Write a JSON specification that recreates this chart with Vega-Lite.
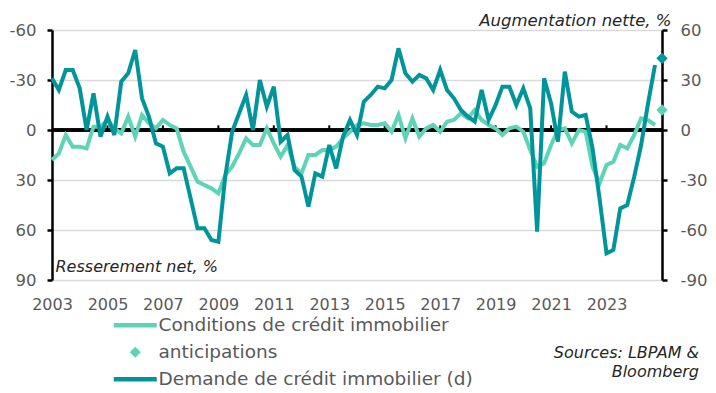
{
  "$schema": "https://vega.github.io/schema/vega-lite/v6.json",
  "width": 610,
  "height": 250,
  "autosize": "none",
  "padding": {"left": 52, "top": 30, "right": 54, "bottom": 113},
  "background": "white",
  "config": {
    "view": {"stroke": null},
    "font": "DejaVu Sans",
    "axisX": {
      "domain": false, "ticks": false, "grid": false,
      "labelFont": "DejaVu Sans", "labelFontSize": 16, "labelColor": "#595959", "labelPadding": 16,
      "labelFlush": false, "labelOverlap": false
    }
  },
  "datasets": {
    "q": [
      {"date":"2003-01-01","cond":18,"dem":31},{"date":"2003-04-01","cond":14,"dem":24},{"date":"2003-07-01","cond":3,"dem":36},{"date":"2003-10-01","cond":10,"dem":36},
      {"date":"2004-01-01","cond":10,"dem":25},{"date":"2004-04-01","cond":11,"dem":0},{"date":"2004-07-01","cond":-2,"dem":22},{"date":"2004-10-01","cond":-2,"dem":-4},
      {"date":"2005-01-01","cond":-6,"dem":8},{"date":"2005-04-01","cond":-1,"dem":-3},{"date":"2005-07-01","cond":2,"dem":29},{"date":"2005-10-01","cond":-8,"dem":34},
      {"date":"2006-01-01","cond":4,"dem":48},{"date":"2006-04-01","cond":-9,"dem":19},{"date":"2006-07-01","cond":-4,"dem":8},{"date":"2006-10-01","cond":-1,"dem":-8},
      {"date":"2007-01-01","cond":-6,"dem":-10},{"date":"2007-04-01","cond":-3,"dem":-26},{"date":"2007-07-01","cond":-1,"dem":-23},{"date":"2007-10-01","cond":13,"dem":-23},
      {"date":"2008-01-01","cond":22,"dem":-41},{"date":"2008-04-01","cond":31,"dem":-59},{"date":"2008-07-01","cond":33,"dem":-59},{"date":"2008-10-01","cond":35,"dem":-66},
      {"date":"2009-01-01","cond":38,"dem":-67},{"date":"2009-04-01","cond":27,"dem":-28},{"date":"2009-07-01","cond":22,"dem":-1},{"date":"2009-10-01","cond":14,"dem":10},
      {"date":"2010-01-01","cond":5,"dem":21},{"date":"2010-04-01","cond":9,"dem":0},{"date":"2010-07-01","cond":9,"dem":30},{"date":"2010-10-01","cond":-1,"dem":14},
      {"date":"2011-01-01","cond":8,"dem":26},{"date":"2011-04-01","cond":16,"dem":-7},{"date":"2011-07-01","cond":9,"dem":-3},{"date":"2011-10-01","cond":22,"dem":-24},
      {"date":"2012-01-01","cond":26,"dem":-28},{"date":"2012-04-01","cond":15,"dem":-46},{"date":"2012-07-01","cond":15,"dem":-26},{"date":"2012-10-01","cond":12,"dem":-28},
      {"date":"2013-01-01","cond":12,"dem":-9},{"date":"2013-04-01","cond":10,"dem":-23},{"date":"2013-07-01","cond":5,"dem":-4},{"date":"2013-10-01","cond":1,"dem":6},
      {"date":"2014-01-01","cond":-3,"dem":-3},{"date":"2014-04-01","cond":-4,"dem":17},{"date":"2014-07-01","cond":-3,"dem":21},{"date":"2014-10-01","cond":-3,"dem":26},
      {"date":"2015-01-01","cond":-4,"dem":25},{"date":"2015-04-01","cond":1,"dem":30},{"date":"2015-07-01","cond":-9,"dem":49},{"date":"2015-10-01","cond":5,"dem":34},
      {"date":"2016-01-01","cond":-7,"dem":29},{"date":"2016-04-01","cond":4,"dem":33},{"date":"2016-07-01","cond":-1,"dem":31},{"date":"2016-10-01","cond":-3,"dem":24},
      {"date":"2017-01-01","cond":1,"dem":36},{"date":"2017-04-01","cond":-5,"dem":24},{"date":"2017-07-01","cond":-6,"dem":19},{"date":"2017-10-01","cond":-10,"dem":12},
      {"date":"2018-01-01","cond":-7,"dem":8},{"date":"2018-04-01","cond":-12,"dem":5},{"date":"2018-07-01","cond":-6,"dem":24},{"date":"2018-10-01","cond":-3,"dem":6},
      {"date":"2019-01-01","cond":-1,"dem":15},{"date":"2019-04-01","cond":3,"dem":26},{"date":"2019-07-01","cond":-1,"dem":26},{"date":"2019-10-01","cond":-2,"dem":15},
      {"date":"2020-01-01","cond":1,"dem":25},{"date":"2020-04-01","cond":12,"dem":13},{"date":"2020-07-01","cond":22,"dem":-61},{"date":"2020-10-01","cond":20,"dem":31},
      {"date":"2021-01-01","cond":9,"dem":16},{"date":"2021-04-01","cond":0,"dem":-7},{"date":"2021-07-01","cond":-1,"dem":35},{"date":"2021-10-01","cond":8,"dem":11},
      {"date":"2022-01-01","cond":0,"dem":8},{"date":"2022-04-01","cond":1,"dem":9},{"date":"2022-07-01","cond":22,"dem":-11},{"date":"2022-10-01","cond":32,"dem":-41},
      {"date":"2023-01-01","cond":21,"dem":-74},{"date":"2023-04-01","cond":19,"dem":-72},{"date":"2023-07-01","cond":9,"dem":-47},{"date":"2023-10-01","cond":11,"dem":-45},
      {"date":"2024-01-01","cond":3,"dem":-28},{"date":"2024-04-01","cond":-7,"dem":-9},{"date":"2024-07-01","cond":-6,"dem":16},{"date":"2024-10-01","cond":-3,"dem":39}
    ],
    "ant": [{"date":"2025-01-01","cond":-12,"dem":43}],
    "ticks": [{"date":"2005-01-01"},{"date":"2007-01-01"},{"date":"2009-01-01"},{"date":"2011-01-01"},{"date":"2013-01-01"},{"date":"2015-01-01"},{"date":"2017-01-01"},{"date":"2019-01-01"},{"date":"2021-01-01"},{"date":"2023-01-01"}]
  },
  "title": {
    "text": ["Sources: LBPAM &", "Bloomberg"],
    "orient": "bottom", "anchor": "end", "frame": "group",
    "font": "DejaVu Sans", "fontSize": 16, "fontStyle": "italic", "fontWeight": "normal",
    "color": "#262626", "dx": 37, "offset": -44, "lineHeight": 19
  },
  "encoding": {
    "x": {"field": "date", "type": "temporal",
      "scale": {"type": "utc", "domain": [{"year": 2003, "month": 1, "date": 1, "utc": true}, {"year": 2025, "month": 1, "date": 1, "utc": true}]},
      "axis": {
        "values": [{"year": 2003, "utc": true}, {"year": 2005, "utc": true}, {"year": 2007, "utc": true}, {"year": 2009, "utc": true}, {"year": 2011, "utc": true}, {"year": 2013, "utc": true}, {"year": 2015, "utc": true}, {"year": 2017, "utc": true}, {"year": 2019, "utc": true}, {"year": 2021, "utc": true}, {"year": 2023, "utc": true}],
        "format": "%Y", "title": null
      }
    }
  },
  "layer": [
    {
      "layer": [
        {
          "data": {"name": "ticks"},
          "mark": {"type": "rule", "color": "#000000", "strokeWidth": 2.5},
          "encoding": {
            "x": null,
            "y": {"datum": 0, "type": "quantitative", "scale": {"domain": [-60, 90], "reverse": true}}
          }
        },
        {
          "data": {"name": "ticks"},
          "mark": {"type": "rule", "color": "#000000", "strokeWidth": 2},
          "encoding": {
            "y": {"datum": 0, "type": "quantitative", "scale": {"domain": [-60, 90], "reverse": true}},
            "y2": {"datum": -2.8}
          }
        },
        {
          "data": {"name": "q"},
          "mark": {"type": "line", "strokeWidth": 4},
          "encoding": {
            "y": {"field": "cond", "type": "quantitative",
              "scale": {"domain": [-60, 90], "reverse": true},
              "axis": {
                "orient": "left", "values": [-60, -30, 0, 30, 60, 90], "labelExpr": "'' + datum.value",
                "grid": true, "gridColor": "#d9d9d9", "gridWidth": 1.5,
                "domainColor": "#000000", "domainWidth": 2.5, "tickColor": "#000000", "tickWidth": 2.5, "tickSize": 5,
                "labelPadding": 11, "labelFont": "DejaVu Sans", "labelFontSize": 16.5, "labelColor": "#595959",
                "title": "Resserement net, %", "titleAngle": 0, "titleAlign": "left", "titleBaseline": "middle",
                "titleX": 3, "titleY": 236, "titleFont": "DejaVu Sans", "titleFontSize": 16, "titleFontStyle": "italic",
                "titleFontWeight": "normal", "titleColor": "#262626"
              }
            },
            "color": {"datum": "Conditions de crédit immobilier", "type": "nominal",
              "scale": {"domain": ["Conditions de crédit immobilier", "anticipations", "Demande de crédit immobilier (d)"], "range": ["#5ED3B5", "#5ED3B5", "#00959A"]},
              "legend": {
                "orient": "none", "legendX": 74, "legendY": 286, "direction": "vertical", "title": null, "padding": 0,
                "labelFont": "DejaVu Sans", "labelFontSize": 18.5, "labelColor": "#595959", "labelOffset": 14, "labelLimit": 500,
                "rowPadding": 8, "symbolSize": 100, "symbolStrokeWidth": 4.5, "symbolType": "M-4.3,0H4.3",
                "encode": {"symbols": {"update": {
                  "shape": {"signal": "datum.value === 'anticipations' ? 'diamond' : 'M-4.3,0H4.3'"},
                  "fill": {"signal": "datum.value === 'anticipations' ? '#5ED3B5' : 'transparent'"},
                  "strokeWidth": {"signal": "datum.value === 'anticipations' ? 0 : 4.5"},
                  "size": {"signal": "datum.value === 'anticipations' ? 121 : 100"}
                }}}
              }
            }
          }
        },
        {
          "data": {"name": "ant"},
          "mark": {"type": "point", "shape": "diamond", "filled": true, "size": 130, "opacity": 1},
          "encoding": {
            "y": {"field": "cond", "type": "quantitative", "scale": {"domain": [-60, 90], "reverse": true}},
            "color": {"datum": "anticipations", "type": "nominal",
              "scale": {"domain": ["Conditions de crédit immobilier", "anticipations", "Demande de crédit immobilier (d)"], "range": ["#5ED3B5", "#5ED3B5", "#00959A"]},
              "legend": null
            }
          }
        }
      ]
    },
    {
      "layer": [
        {
          "data": {"name": "q"},
          "mark": {"type": "line", "strokeWidth": 4},
          "encoding": {
            "y": {"field": "dem", "type": "quantitative",
              "scale": {"domain": [-90, 60]},
              "axis": {
                "orient": "right", "values": [-90, -60, -30, 0, 30, 60], "labelExpr": "'' + datum.value",
                "grid": false,
                "domainColor": "#000000", "domainWidth": 2.5, "tickColor": "#000000", "tickWidth": 2.5, "tickSize": 5,
                "labelPadding": 13, "labelFont": "DejaVu Sans", "labelFontSize": 16.5, "labelColor": "#595959",
                "title": "Augmentation nette, %", "titleAngle": 0, "titleAlign": "right", "titleBaseline": "middle",
                "titleX": 9, "titleY": -10, "titleFont": "DejaVu Sans", "titleFontSize": 16.5, "titleFontStyle": "italic",
                "titleFontWeight": "normal", "titleColor": "#262626"
              }
            },
            "color": {"datum": "Demande de crédit immobilier (d)", "type": "nominal",
              "scale": {"domain": ["Conditions de crédit immobilier", "anticipations", "Demande de crédit immobilier (d)"], "range": ["#5ED3B5", "#5ED3B5", "#00959A"]},
              "legend": null
            }
          }
        },
        {
          "data": {"name": "ant"},
          "mark": {"type": "point", "shape": "diamond", "filled": true, "size": 130, "opacity": 1, "color": "#00959A"},
          "encoding": {
            "y": {"field": "dem", "type": "quantitative", "scale": {"domain": [-90, 60]}}
          }
        }
      ]
    }
  ],
  "resolve": {"scale": {"y": "independent"}}
}
